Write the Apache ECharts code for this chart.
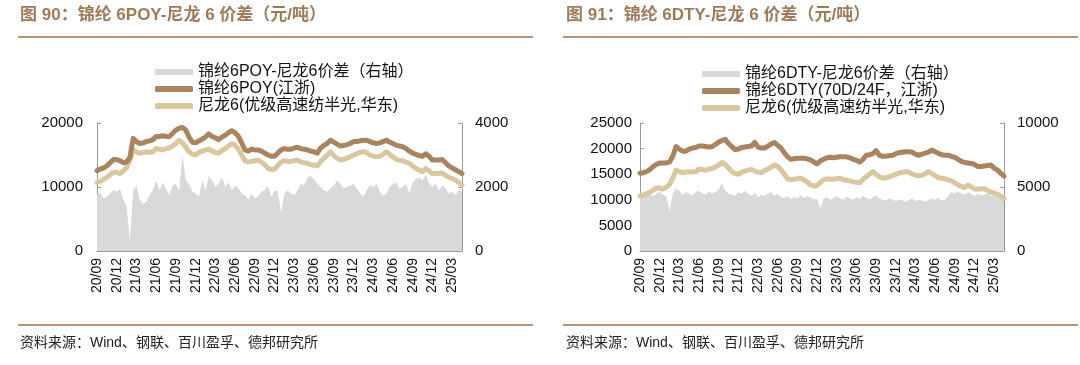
<!DOCTYPE html>
<html>
<head>
<meta charset="utf-8">
<script src="https://cdn.jsdelivr.net/npm/echarts@6/dist/echarts.min.js"></script>
<style>
html,body{margin:0;padding:0;background:#fff;}
#c{width:1080px;height:365px;}
</style>
</head>
<body>
<div id="c"></div>
<script>
// Semi-monthly dates 2020-09-01 .. 2025-04-16
var categories = [
"2020-09-01","2020-09-16","2020-10-01","2020-10-16","2020-11-01","2020-11-16","2020-12-01","2020-12-16",
"2021-01-01","2021-01-16","2021-02-01","2021-02-16","2021-03-01","2021-03-16","2021-04-01","2021-04-16",
"2021-05-01","2021-05-16","2021-06-01","2021-06-16","2021-07-01","2021-07-16","2021-08-01","2021-08-16",
"2021-09-01","2021-09-16","2021-10-01","2021-10-16","2021-11-01","2021-11-16","2021-12-01","2021-12-16",
"2022-01-01","2022-01-16","2022-02-01","2022-02-16","2022-03-01","2022-03-16","2022-04-01","2022-04-16",
"2022-05-01","2022-05-16","2022-06-01","2022-06-16","2022-07-01","2022-07-16","2022-08-01","2022-08-16",
"2022-09-01","2022-09-16","2022-10-01","2022-10-16","2022-11-01","2022-11-16","2022-12-01","2022-12-16",
"2023-01-01","2023-01-16","2023-02-01","2023-02-16","2023-03-01","2023-03-16","2023-04-01","2023-04-16",
"2023-05-01","2023-05-16","2023-06-01","2023-06-16","2023-07-01","2023-07-16","2023-08-01","2023-08-16",
"2023-09-01","2023-09-16","2023-10-01","2023-10-16","2023-11-01","2023-11-16","2023-12-01","2023-12-16",
"2024-01-01","2024-01-16","2024-02-01","2024-02-16","2024-03-01","2024-03-16","2024-04-01","2024-04-16",
"2024-05-01","2024-05-16","2024-06-01","2024-06-16","2024-07-01","2024-07-16","2024-08-01","2024-08-16",
"2024-09-01","2024-09-16","2024-10-01","2024-10-16","2024-11-01","2024-11-16","2024-12-01","2024-12-16",
"2025-01-01","2025-01-16","2025-02-01","2025-02-16","2025-03-01","2025-03-16","2025-04-01","2025-04-16"
];

var poyPrice = [
12550,12800,13000,13300,13800,14300,14300,14100,13800,13900,14600,17600,17100,16800,16900,17100,
17200,17400,17900,17900,18000,17900,17900,18400,18900,19200,19300,18900,17800,17000,16900,17200,
17500,17800,18300,17900,17700,17400,17800,18100,18500,18800,18500,17900,16900,15800,15600,15900,
15800,15800,15600,15300,15000,14800,14800,15300,15800,16000,15900,15900,16100,16200,16000,15900,
15800,15600,15500,15300,16100,16500,16800,17300,17000,16700,16400,16500,16600,16800,17100,17100,
17200,17300,17300,17100,16900,16800,16900,17100,17300,17000,16800,16500,16400,16300,16000,15600,
15300,15100,14900,14800,15200,14800,14200,14200,14200,14300,13800,13300,13000,12700,12400,12100
];

var nylonPrice = [
10700,10900,11200,11500,11900,12300,12300,12100,12500,13000,14200,15800,15500,15300,15400,15500,
15400,15500,16000,15900,15800,16000,16100,16400,16800,17300,16900,16200,15500,15100,15000,15400,
15600,15800,15900,15600,15400,15300,15700,16000,16400,16800,16500,15900,15000,14100,13900,14000,
14100,14200,13900,13500,12900,12700,12800,13400,13900,14100,14000,14000,14100,14200,13900,13800,
13700,13500,13400,13300,14000,14500,15000,15500,14900,14500,14200,14300,14500,14700,15000,15200,
15400,15500,15400,15000,14800,14700,14800,15100,15500,15100,14700,14300,14200,14100,13900,13700,
13300,12900,12600,12400,12900,12500,12100,12100,12100,12200,11800,11500,11300,11100,10700,10300
];

var poySpread = [
1750,1820,1650,1700,1800,1900,1850,1950,1600,1400,300,1900,2050,1600,1450,1550,
1750,1900,2200,1900,2150,1950,1750,2050,2100,1900,3000,2200,2100,1850,1800,1700,
2200,1900,2350,2200,2000,2100,2300,2000,2150,1900,2050,1950,1800,1750,1600,1800,
1650,1700,1850,1900,2050,1700,1900,1850,1200,1800,1900,1800,1750,1900,2100,2050,
2300,2350,2250,2100,2000,1900,1850,1950,2050,2200,2100,1950,2000,2050,2100,1950,
1800,1700,1900,2050,2000,2100,1850,1700,1800,2000,2100,2150,1950,2000,2100,1800,
2150,2250,2300,2200,2400,2100,2000,2100,1900,2050,1950,1800,1850,1750,1900,1850
];

var dtyPrice = [
15200,15300,15500,15900,16500,16900,17200,17200,17200,17400,18500,20400,19900,19500,19500,19900,
20100,20200,20500,20500,20400,20300,20400,20800,21300,21600,21800,21000,20400,19800,19900,20200,
20300,20400,20500,21200,20300,20100,20100,20500,20900,21200,20600,20100,19200,18400,17900,18000,
18100,18100,18100,18000,17800,17400,17000,17600,17900,18200,18300,18200,18300,18400,18400,18400,
18200,17900,17700,17400,17900,18700,18800,19000,19600,18700,18500,18500,18600,18700,19000,19200,
19300,19400,19400,19300,18900,18700,18900,19100,19300,19700,19400,19100,18800,18700,18700,18500,
18300,17900,17500,17300,17200,17100,16900,16500,16500,16600,16700,16800,16200,15800,15200,14600
];

var dtySpread = [
4400,4300,4350,4450,4300,4500,4600,4400,4300,3100,4500,4900,4700,4400,4600,4500,
4350,4600,4700,4500,4400,4650,4500,4600,4800,5300,4700,4500,4400,4300,4600,4500,
4700,4450,4300,4550,4200,4400,4300,4500,4600,4300,4450,4200,4150,4300,4050,4200,
4100,4350,4150,4300,4200,4000,4100,3300,4100,4200,4000,4150,4300,4100,4000,4250,
4100,4000,4200,4050,4300,4150,4000,4200,4350,4100,4000,3950,4100,4000,3900,4050,
3950,3850,4000,4100,3900,4000,3950,3850,4000,4100,4000,4150,3950,4000,4300,4600,
4500,4650,4500,4400,4600,4450,4300,4500,4350,4400,4500,4300,4400,4350,4200,4300
];

var leftNames = ['锦纶6POY-尼龙6价差（右轴）','锦纶6POY(江浙)','尼龙6(优级高速纺半光,华东)'];
var rightNames = ['锦纶6DTY-尼龙6价差（右轴）','锦纶6DTY(70D/24F，江浙)','尼龙6(优级高速纺半光,华东)'];

var FONT = '"Liberation Sans", Arial, "Noto Sans CJK SC", sans-serif';
var DARK = '#a9845f', LIGHT = '#d9c7a0', GRAY = '#d9d9d9', AXIS = '#9a9a9a';
var TITLE_C = '#9f7b5a', RULE_C = '#b59474';

function isQuarter(v){
  var m = v.substr(5,2), d = v.substr(8,2);
  return d === '01' && (m === '03' || m === '06' || m === '09' || m === '12');
}
function xAxisCfg(gi){
  return {
    type:'category', gridIndex:gi, data:categories, boundaryGap:false,
    axisLine:{show:true, lineStyle:{color:AXIS, width:1}},
    axisTick:{show:true, inside:true, length:4, lineStyle:{color:AXIS},
      interval:function(i,v){return isQuarter(v);}},
    axisLabel:{rotate:90, fontSize:14, color:'#111', fontFamily:FONT, margin:7,
      interval:function(i,v){return isQuarter(v);},
      formatter:function(v){return v.substr(2,2)+'/'+v.substr(5,2);}},
    splitLine:{show:false}
  };
}
function yAxisCfg(gi, max, interval, pos, margin){
  return {
    type:'value', gridIndex:gi, min:0, max:max, interval:interval, position:pos,
    axisLine:{show:true, lineStyle:{color:AXIS}},
    axisTick:{show:true, inside:true, length:4, lineStyle:{color:AXIS}},
    axisLabel:{fontSize:15, color:'#111', fontFamily:FONT, margin:margin,
      formatter:function(v){return String(v);}},
    splitLine:{show:false}
  };
}
function legendCfg(names, left, top){
  return {
    orient:'vertical', left:left, top:top, itemWidth:38, itemHeight:6, itemGap:1,
    textStyle:{fontSize:16, color:'#111', fontFamily:FONT, lineHeight:16},
    data:[{name:names[0], icon:'rect'},{name:names[1], icon:'roundRect'},{name:names[2], icon:'roundRect'}]
  };
}
function areaSeries(name, xi, yi, data){
  return {name:name, type:'line', xAxisIndex:xi, yAxisIndex:yi, data:data, showSymbol:false, symbol:'none',
    lineStyle:{width:0, color:GRAY}, itemStyle:{color:GRAY}, areaStyle:{color:GRAY, opacity:1}, z:1};
}
function lineSeries(name, xi, yi, data, color, z){
  return {name:name, type:'line', xAxisIndex:xi, yAxisIndex:yi, data:data, showSymbol:false, symbol:'none',
    lineStyle:{width:5, color:color, cap:'round', join:'round'}, itemStyle:{color:color}, z:z};
}

var chart = echarts.init(document.getElementById('c'), null, {renderer:'canvas'});
chart.setOption({
  backgroundColor:'#fff',
  animation:false,
  textStyle:{fontFamily:FONT},
  grid:[
    {left:97, top:123, width:365, height:128},
    {left:640, top:123, width:364, height:128}
  ],
  legend:[legendCfg(leftNames, 150, 59), legendCfg(rightNames, 697, 61)],
  xAxis:[xAxisCfg(0), xAxisCfg(1)],
  yAxis:[
    yAxisCfg(0, 20000, 10000, 'left', 14),
    yAxisCfg(0, 4000, 2000, 'right', 13),
    yAxisCfg(1, 25000, 5000, 'left', 8),
    yAxisCfg(1, 10000, 5000, 'right', 13)
  ],
  series:[
    areaSeries(leftNames[0], 0, 1, poySpread),
    lineSeries(leftNames[1], 0, 0, poyPrice, DARK, 3),
    lineSeries(leftNames[2], 0, 0, nylonPrice, LIGHT, 2),
    areaSeries(rightNames[0], 1, 3, dtySpread),
    lineSeries(rightNames[1], 1, 2, dtyPrice, DARK, 3),
    lineSeries(rightNames[2], 1, 2, nylonPrice, LIGHT, 2)
  ],
  graphic:[
    {type:'text', left:20, top:7, style:{text:'图 90：锦纶 6POY-尼龙 6 价差（元/吨）', fill:TITLE_C, font:'bold 17px '+FONT}},
    {type:'text', left:566, top:7, style:{text:'图 91：锦纶 6DTY-尼龙 6 价差（元/吨）', fill:TITLE_C, font:'bold 17px '+FONT}},
    {type:'line', shape:{x1:18, y1:37, x2:533, y2:37}, style:{stroke:RULE_C, lineWidth:2}},
    {type:'line', shape:{x1:563, y1:37, x2:1078, y2:37}, style:{stroke:RULE_C, lineWidth:2}},
    {type:'line', shape:{x1:18, y1:325, x2:533, y2:325}, style:{stroke:RULE_C, lineWidth:2}},
    {type:'line', shape:{x1:563, y1:325, x2:1078, y2:325}, style:{stroke:RULE_C, lineWidth:2}},
    {type:'text', left:20, top:336, style:{text:'资料来源：Wind、钢联、百川盈孚、德邦研究所', fill:'#222', font:'14px '+FONT}},
    {type:'text', left:566, top:336, style:{text:'资料来源：Wind、钢联、百川盈孚、德邦研究所', fill:'#222', font:'14px '+FONT}}
  ]
});
</script>
</body>
</html>
